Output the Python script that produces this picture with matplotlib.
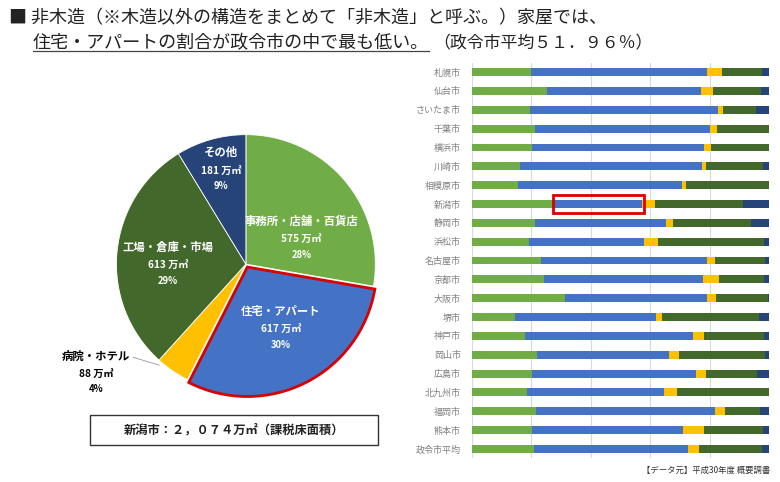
import matplotlib
matplotlib.use('Agg')
import matplotlib.pyplot as plt
from matplotlib.patches import Rectangle
from matplotlib.lines import Line2D

plt.rcParams['font.family'] = ['Noto Sans CJK JP', 'DejaVu Sans']

# 新潟市の非木造家屋 内訳
pie_labels = ["事務所・店舗・百貨店", "住宅・アパート", "病院・ホテル", "工場・倉庫・市場", "その他"]
pie_values = [575, 617, 88, 613, 181]
pie_pcts = ["28%", "30%", "4%", "29%", "9%"]
colors = ["#70AD47", "#4472C4", "#FFC000", "#43682B", "#264478"]

# 政令市別 構成比（%）
cities = ["札幌市", "仙台市", "さいたま市", "千葉市", "横浜市", "川崎市", "相模原市",
          "新潟市", "静岡市", "浜松市", "名古屋市", "京都市", "大阪市", "堺市",
          "神戸市", "岡山市", "広島市", "北九州市", "福岡市", "熊本市", "政令市平均"]
office = [19.8, 25.4, 19.4, 21.1, 20.3, 16.1, 15.6, 27.7, 21.1, 19.1, 23.1,
          24.2, 31.2, 14.4, 17.8, 21.8, 20.2, 18.5, 21.5, 20.2, 20.8]
house = [59.2, 51.6, 63.3, 59.0, 57.9, 61.3, 55.0, 29.7, 44.1, 38.9, 55.9,
         53.4, 47.8, 47.4, 56.7, 44.5, 55.2, 46.2, 60.3, 50.9, 52.0]
hospital = [5.3, 4.2, 1.9, 2.3, 2.2, 1.4, 1.6, 4.2, 2.6, 4.5, 2.9,
            5.7, 3.1, 2.0, 3.6, 3.5, 3.4, 4.2, 3.4, 7.0, 3.5]
factory = [13.2, 16.1, 11.0, 17.6, 19.6, 19.1, 27.8, 29.6, 26.1, 35.8, 16.8,
           15.0, 17.7, 32.9, 20.2, 28.9, 17.3, 31.1, 11.8, 20.0, 21.2]
other = [2.5, 2.7, 4.4, 0.0, 0.0, 2.1, 0.0, 8.7, 6.1, 1.7, 1.3,
         1.7, 0.2, 3.3, 1.7, 1.3, 3.9, 0.0, 3.0, 1.9, 2.5]

fig = plt.figure(figsize=(7.8, 4.82), dpi=100)

# タイトル
fig.text(0.012, 0.962, "■ 非木造（※木造以外の構造をまとめて「非木造」と呼ぶ。）家屋では、",
         fontsize=13, va='center', color='#222222')
t_under = fig.text(0.042, 0.910, "住宅・アパートの割合が政令市の中で最も低い。",
                   fontsize=13, va='center', color='#222222')

# 円グラフ
axp = fig.add_axes([0.146, 0.178, 0.3385, 0.548])
wedges, _ = axp.pie(pie_values, colors=colors, startangle=90, counterclock=False,
                    explode=[0, 0.025, 0, 0, 0],
                    wedgeprops=dict(edgecolor='white', linewidth=0.6))
wedges[1].set_edgecolor('#D80000')
wedges[1].set_linewidth(2)
wedges[1].set_zorder(5)
axp.set_xlim(-1.02, 1.02)
axp.set_ylim(-1.02, 1.02)
axp.set_aspect('auto')
axp.axis('off')

lab_pos = [(0.43, 0.33), (0.27, -0.365), (-1.16, -0.71), (-0.60, 0.13), (-0.19, 0.86)]
for i, (x, y) in enumerate(lab_pos):
    c = 'black' if i == 2 else 'white'
    axp.text(x, y, pie_labels[i], color=c, fontsize=8.2, fontweight='bold', ha='center',
             va='center', zorder=10)
    axp.text(x, y - 0.137, f"{pie_values[i]} 万㎡", color=c, fontsize=7.3, fontweight='bold',
             ha='center', va='center', zorder=10)
    axp.text(x, y - 0.258, pie_pcts[i], color=c, fontsize=6.8, fontweight='bold',
             ha='center', va='center', zorder=10)
axp.plot([-0.87, -0.67], [-0.72, -0.78], color='#999999', lw=0.6)

# 新潟市 合計
fig.patches.append(Rectangle((0.1154, 0.077), 0.3692, 0.062, transform=fig.transFigure,
                             fill=False, edgecolor='#333333', linewidth=1))
fig.text(0.300, 0.108, "新潟市：２，０７４万㎡（課税床面積）", fontsize=8.8, fontweight='bold',
         ha='center', va='center', color='#222222')

# 帯グラフ
axb = fig.add_axes([0.605, 0.049, 0.381, 0.821])
y = range(len(cities))
series = [office, house, hospital, factory, other]
left = [0.0] * len(cities)
for vals, col in zip(series, colors):
    axb.barh(y, vals, left=left, height=0.42, color=col, zorder=3)
    left = [a + b for a, b in zip(left, vals)]
axb.set_xlim(0, 100)
axb.set_ylim(len(cities) - 0.5, -0.5)
axb.set_xticks([0, 20, 40, 60, 80, 100])
axb.set_xticklabels([])
axb.grid(axis='x', color='#D9D9D9', linewidth=0.8, zorder=0)
axb.set_yticks(list(y))
axb.set_yticklabels(cities, fontsize=6.5, color='#7F7F7F')
axb.tick_params(length=0, pad=8)
for s in axb.spines.values():
    s.set_visible(False)

ni = cities.index("新潟市")
axb.add_patch(Rectangle((office[ni] - 0.4, ni - 0.48), house[ni] + 1.0, 0.96,
                        fill=False, edgecolor='#D80000', linewidth=2, zorder=6))

fig.text(0.988, 0.025, "【データ元】平成30年度 概要調書", fontsize=6, ha='right', va='center',
         color='#333333')

# 下線と続きの文
fig.canvas.draw()
bb = t_under.get_window_extent().transformed(fig.transFigure.inverted())
fig.lines.append(Line2D([bb.x0, bb.x1], [bb.y0 + 0.002, bb.y0 + 0.002], transform=fig.transFigure,
                        color='#444444', linewidth=0.9))
fig.text(bb.x1 + 0.006, 0.910, "（政令市平均５１．９６％）",
         fontsize=12.2, va='center', color='#222222')

fig.savefig('out.png', dpi=100)
